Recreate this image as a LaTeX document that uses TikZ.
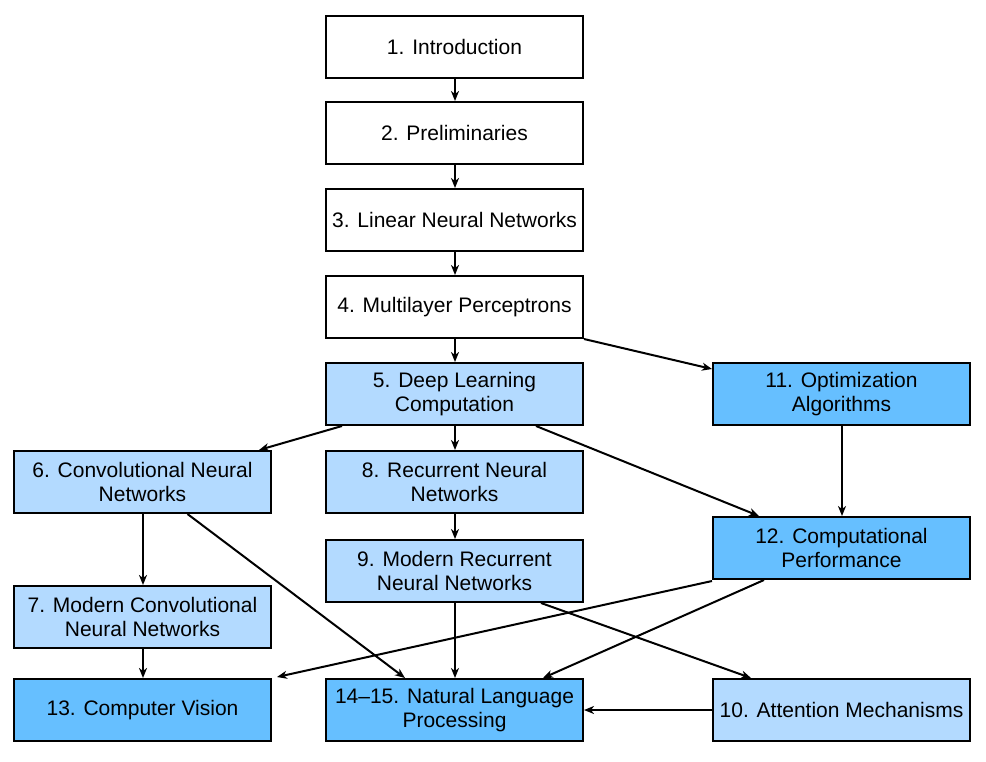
\documentclass[tikz,border=0pt]{standalone}
\usepackage{fontspec}
\setmainfont{Liberation Sans}
\usetikzlibrary{arrows.meta}
\definecolor{lightb}{HTML}{B3DAFF}
\definecolor{darkb}{HTML}{66BFFF}
\tikzset{
  box/.style={draw=black, line width=2pt, minimum width=257pt, minimum height=62pt, inner sep=0pt, align=center, font=\fontsize{21}{24}\selectfont},
  wbox/.style={box, fill=white},
  lbox/.style={box, fill=lightb},
  dbox/.style={box, fill=darkb},
  arr/.style={line width=2pt, -{Stealth[length=10pt,width=8pt,inset=3pt]}},
}
\begin{document}
\begin{tikzpicture}[x=1pt,y=-1pt]
\useasboundingbox (0,0) rectangle (986,761);
\node[wbox] (n1) at (454.5,47) {1. Introduction};
\node[wbox] (n2) at (454.5,133) {2. Preliminaries};
\node[wbox] (n3) at (454.5,220) {3. Linear Neural Networks};
\node[wbox] (n4) at (454.5,307) {4. Multilayer Perceptrons};
\node[lbox] (n5) at (454.5,394) {5. Deep Learning\\Computation};
\node[dbox] (n11) at (841.5,394) {11. Optimization\\Algorithms};
\node[lbox] (n6) at (142.5,482) {6. Convolutional Neural\\Networks};
\node[lbox] (n8) at (454.5,482) {8. Recurrent Neural\\Networks};
\node[dbox] (n12) at (841.5,548) {12. Computational\\Performance};
\node[lbox] (n9) at (454.5,571) {9. Modern Recurrent\\Neural Networks};
\node[lbox] (n7) at (142.5,617) {7. Modern Convolutional\\Neural Networks};
\node[dbox] (n13) at (142.5,710) {13. Computer Vision};
\node[dbox] (n14) at (454.5,710) {14–15. Natural Language\\Processing};
\node[lbox] (n10) at (841.5,710) {10. Attention Mechanisms};

\coordinate (a11) at ([yshift=-7pt]n11.north west);
\coordinate (s56) at ([xshift=17pt]n5.south west);
\coordinate (e56) at ([xshift=-13pt]n6.north east);
\coordinate (s512) at ([xshift=-48pt]n5.south east);
\coordinate (e512) at ([xshift=47pt]n12.north west);
\coordinate (s614) at ([xshift=45pt]n6.south);
\coordinate (e614) at ([xshift=80pt]n14.north west);
\coordinate (s910) at ([xshift=-43pt]n9.south east);
\coordinate (e910) at ([xshift=39pt]n10.north west);
\coordinate (s1213) at ([yshift=-1pt]n12.south west);
\coordinate (e1213) at ([xshift=5pt,yshift=1pt]n13.north east);
\coordinate (s1214) at ([xshift=52pt]n12.south west);
\coordinate (e1214) at ([xshift=-41pt]n14.north east);

\draw[arr] ([xshift=0.5pt]n1.south) -- ([xshift=0.5pt]n2.north);
\draw[arr] ([xshift=0.5pt]n2.south) -- ([xshift=0.5pt]n3.north);
\draw[arr] ([xshift=0.5pt]n3.south) -- ([xshift=0.5pt]n4.north);
\draw[arr] ([xshift=0.5pt]n4.south) -- ([xshift=0.5pt]n5.north);
\draw[arr] (n4.south east) -- (a11);
\draw[arr] (s56) -- (e56);
\draw[arr] ([xshift=0.5pt]n5.south) -- ([xshift=0.5pt]n8.north);
\draw[arr] (s512) -- (e512);
\draw[arr] ([xshift=0.5pt]n11.south) -- ([xshift=0.5pt]n12.north);
\draw[arr] ([xshift=0.5pt]n6.south) -- ([xshift=0.5pt]n7.north);
\draw[arr] (s614) -- (e614);
\draw[arr] ([xshift=0.5pt]n8.south) -- ([xshift=0.5pt]n9.north);
\draw[arr] ([xshift=0.5pt]n9.south) -- ([xshift=0.5pt]n14.north);
\draw[arr] (s910) -- (e910);
\draw[arr] (s1213) -- (e1213);
\draw[arr] (s1214) -- (e1214);
\draw[arr] ([xshift=0.5pt]n7.south) -- ([xshift=0.5pt]n13.north);
\draw[arr] (n10) -- (n14);
\end{tikzpicture}
\end{document}
